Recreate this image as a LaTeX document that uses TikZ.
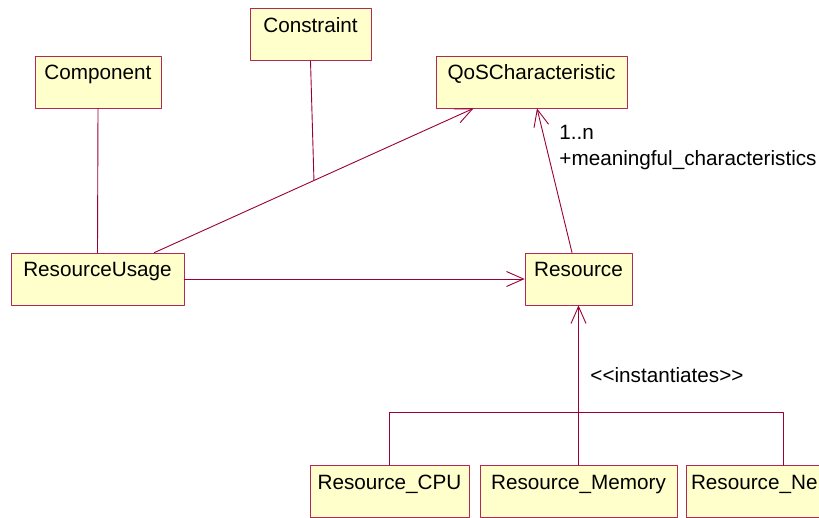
\documentclass[tikz,border=0pt]{standalone}
\usepackage{fontspec}
\setmainfont{Liberation Sans}
\usetikzlibrary{arrows.meta}

\definecolor{umlline}{RGB}{153,0,51}
\definecolor{umledge}{RGB}{180,40,85}
\definecolor{umlfill}{RGB}{255,255,204}

\begin{document}
\begin{tikzpicture}[x=1pt, y=-1pt, line width=0.9pt, line cap=round, line join=round,
  every node/.style={font=\fontsize{20.7}{24}\selectfont},
  cls/.style={draw=umledge, fill=umlfill, line width=0.8pt, inner xsep=0pt, inner ysep=0pt,
              text height=24pt, text depth=28pt},
  assoc/.style={draw=umlline, line width=0.9pt},
  nav/.style={assoc, -{Straight Barb[length=17pt, width=15pt]}},
  tag/.style={inner sep=0pt, anchor=base west}]

  %% ════ 类框（中心坐标，宽度按原图量）════
  \node[cls, minimum width=126pt] (comp) at (98.0,82.0)   {Component};
  \node[cls, minimum width=121pt] (cons) at (310.5,34.5)  {Constraint};
  \node[cls, minimum width=191pt] (qos)  at (531.5,82.0)  {QoSCharacteristic};
  \node[cls, minimum width=173pt] (ru)   at (97.5,279.0)  {ResourceUsage};
  \node[cls, minimum width=107pt] (res)  at (578.5,279.0) {Resource};
  \node[cls, minimum width=159pt] (cpu)  at (389.5,491.5) {Resource\_CPU};
  \node[cls, minimum width=197pt] (mem)  at (578.5,491.5) {Resource\_Memory};
  %% ⚠ 右边被画布切掉，只剩 Resource_Ne；字左移一点免得被裁
  \node[cls, minimum width=194pt, text width=184pt, align=left, inner xsep=5pt] (net) at (783.0,491.5) {Resource\_Ne};

  %% ════ 关联线 ════
  \draw[assoc] (comp.south) -- (ru.north);
  \draw[nav] ([xshift=-30pt]ru.north east) -- coordinate[pos=0.5] (mid) ([xshift=-58pt]qos.south);
  \draw[assoc] (cons.south) -- (mid);
  \draw[nav] ([xshift=-6.5pt]res.north) -- ([xshift=5.5pt]qos.south);
  \draw[nav] (ru.east) -- (res.west);

  %% ════ 实例化树 ════
  \draw[nav] (mem.north) -- (res.south);
  \draw[assoc] (cpu.north) -- ++(0,-53) -| (net.north);

  %% ════ 标签 ════
  \node[tag] (mult)   at (559.0,140.0) {1..n};
  \node[tag] (role)   at (559.0,166.0) {+meaningful\_characteristics};
  \node[tag] (stereo) at (590.0,382.0) {<{}<instantiates>{}>};

  % 钉死画布
  \pgfresetboundingbox
  \path[use as bounding box] (0,0) rectangle (819,518);
\end{tikzpicture}
\end{document}
